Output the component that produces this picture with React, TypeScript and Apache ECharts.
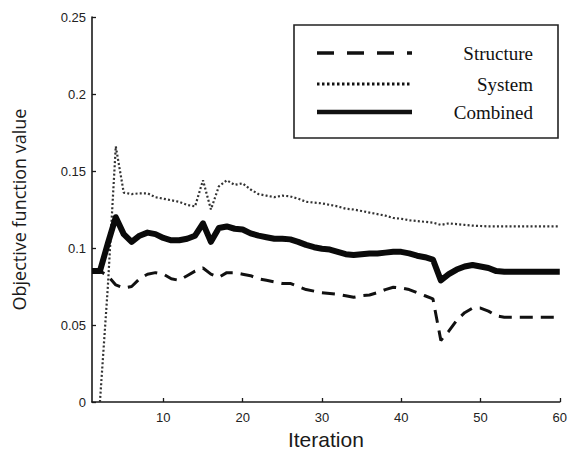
import React, { useEffect, useRef } from "react";
import * as echarts from "echarts";

const iterations: number[] = Array.from({ length: 60 }, (_, i) => i + 1);

const structure: number[] = [
  0.085, 0.085, 0.082, 0.076, 0.074, 0.075, 0.080, 0.083, 0.084, 0.083,
  0.080, 0.079, 0.082, 0.085, 0.087, 0.083, 0.081, 0.084, 0.084, 0.083,
  0.082, 0.080, 0.079, 0.078, 0.077, 0.077, 0.075, 0.073, 0.072, 0.071,
  0.0705, 0.070, 0.069, 0.068, 0.069, 0.0695, 0.071, 0.073, 0.0745, 0.074,
  0.073, 0.071, 0.069, 0.067, 0.040, 0.046, 0.053, 0.058, 0.061, 0.061,
  0.059, 0.056, 0.055, 0.055, 0.055, 0.055, 0.055, 0.055, 0.055, 0.055,
];

const system: (number | null)[] = [
  null, 0.0, 0.075, 0.166, 0.136, 0.135, 0.1355, 0.1355, 0.133, 0.132,
  0.131, 0.130, 0.128, 0.127, 0.144, 0.125, 0.140, 0.144, 0.141, 0.142,
  0.138, 0.135, 0.134, 0.133, 0.134, 0.1335, 0.132, 0.130, 0.1295, 0.129,
  0.128, 0.127, 0.1255, 0.125, 0.124, 0.123, 0.122, 0.121, 0.1195, 0.119,
  0.118, 0.1175, 0.117, 0.1165, 0.115, 0.116, 0.1155, 0.115, 0.1145, 0.1143,
  0.114, 0.114, 0.114, 0.114, 0.114, 0.114, 0.114, 0.114, 0.114, 0.114,
];

const combined: number[] = [
  0.085, 0.085, 0.103, 0.120, 0.109, 0.104, 0.108, 0.110, 0.109, 0.1065,
  0.105, 0.105, 0.106, 0.108, 0.116, 0.104, 0.113, 0.114, 0.1125, 0.112,
  0.1095, 0.108, 0.107, 0.106, 0.106, 0.1056, 0.104, 0.102, 0.1005, 0.0995,
  0.099, 0.0975, 0.096, 0.0955, 0.096, 0.0965, 0.0965, 0.097, 0.0975, 0.0975,
  0.0965, 0.095, 0.094, 0.0925, 0.079, 0.083, 0.086, 0.088, 0.089, 0.088,
  0.087, 0.085, 0.0846, 0.0846, 0.0846, 0.0846, 0.0846, 0.0846, 0.0846, 0.0846,
];

const xTicks: number[] = [10, 20, 30, 40, 50, 60];
const legendNames: string[] = ["Structure", "System", "Combined"];

const pair = (arr: (number | null)[]) => iterations.map((x, i) => [x, arr[i]]);

export default function App() {
  const ref = useRef<HTMLDivElement>(null);
  useEffect(() => {
    if (!ref.current) return;
    const chart = echarts.init(ref.current, undefined, { renderer: "svg" });
    const axisColor = "#1a1a1a";
    const legendLineX1 = 317;
    const legendLineX2 = 412;
    const rows = [53, 84, 112];
    chart.setOption({
      animation: false,
      backgroundColor: "#fff",
      grid: { left: 92, right: 10, top: 17, bottom: 53, containLabel: false },
      xAxis: {
        type: "value",
        min: 1,
        max: 60,
        name: "Iteration",
        nameLocation: "middle",
        nameGap: 25,
        nameTextStyle: { fontFamily: "Liberation Sans", fontSize: 21, color: "#1a1a1a" },
        axisLine: { lineStyle: { color: axisColor, width: 1.6 } },
        axisTick: { inside: true, length: 4, customValues: xTicks, lineStyle: { color: axisColor, width: 1.3 } },
        axisLabel: {
          customValues: xTicks,
          fontFamily: "Liberation Sans",
          fontSize: 13,
          color: "#222",
          margin: 9,
        },
        splitLine: { show: false },
      },
      yAxis: {
        type: "value",
        min: 0,
        max: 0.25,
        interval: 0.05,
        name: "Objective function value",
        nameLocation: "middle",
        nameGap: 64,
        nameTextStyle: { fontFamily: "Open Sans", fontSize: 18, color: "#1a1a1a" },
        axisLine: { show: true, lineStyle: { color: axisColor, width: 1.6 } },
        axisTick: { show: true, inside: true, length: 4, lineStyle: { color: axisColor, width: 1.3 } },
        axisLabel: {
          fontFamily: "Liberation Sans",
          fontSize: 13,
          color: "#222",
          margin: 6,
          formatter: (v: number) => String(parseFloat(v.toFixed(2))),
        },
        splitLine: { show: false },
      },
      series: [
        {
          name: legendNames[0],
          type: "line",
          data: pair(structure),
          showSymbol: false,
          lineStyle: { color: "#111", width: 3, type: [13, 8] },
          z: 3,
        },
        {
          name: legendNames[1],
          type: "line",
          data: pair(system),
          showSymbol: false,
          connectNulls: false,
          lineStyle: { color: "#333", width: 2.2, type: [2, 2.2] },
          z: 2,
        },
        {
          name: legendNames[2],
          type: "line",
          data: pair(combined),
          showSymbol: false,
          lineStyle: { color: "#0a0a0a", width: 6, join: "round" },
          z: 4,
        },
      ],
      graphic: [
        {
          type: "rect",
          shape: { x: 294, y: 25, width: 264, height: 113 },
          style: { fill: "#fff", stroke: "#222", lineWidth: 1.6 },
          z: 10,
        },
        {
          type: "line",
          shape: { x1: legendLineX1, y1: rows[0], x2: legendLineX2, y2: rows[0] },
          style: { stroke: "#111", lineWidth: 3.5, lineDash: [17, 13] },
          z: 11,
        },
        {
          type: "line",
          shape: { x1: legendLineX1, y1: rows[1], x2: legendLineX2, y2: rows[1] },
          style: { stroke: "#111", lineWidth: 3, lineDash: [2.5, 2.5] },
          z: 11,
        },
        {
          type: "line",
          shape: { x1: legendLineX1, y1: rows[2], x2: legendLineX2, y2: rows[2] },
          style: { stroke: "#111", lineWidth: 4.5 },
          z: 11,
        },
        ...legendNames.map((n, i) => ({
          type: "text",
          x: 533,
          y: rows[i],
          style: {
            text: n,
            align: "right",
            verticalAlign: "middle",
            fontFamily: "Liberation Serif",
            fontSize: 19,
            fill: "#111",
          },
          z: 11,
        })),
      ],
    });
    return () => chart.dispose();
  }, []);
  return <div ref={ref} style={{ width: 570, height: 455, position: "absolute", left: 0, top: 0 }} />;
}
